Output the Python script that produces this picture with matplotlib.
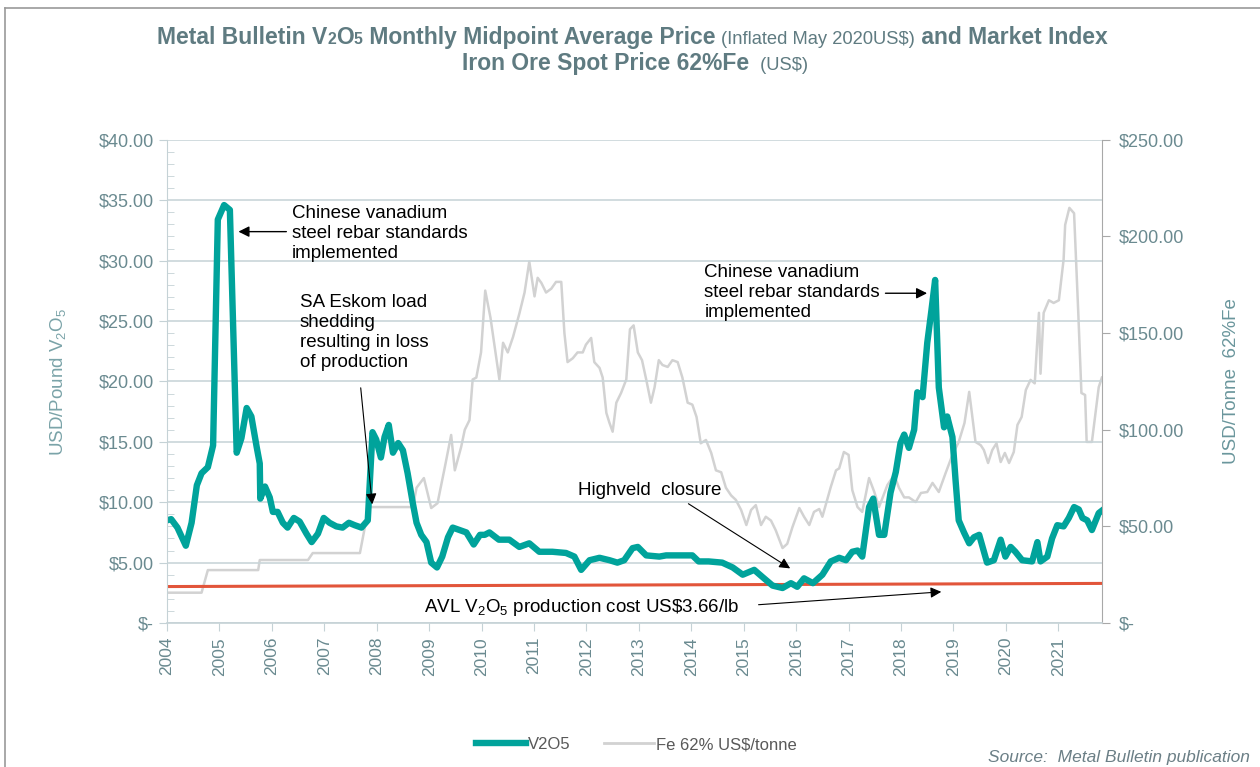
import matplotlib
matplotlib.use("Agg")
import matplotlib.pyplot as plt
from matplotlib import font_manager
from matplotlib.lines import Line2D
from matplotlib.ticker import FuncFormatter, MultipleLocator

plt.rcParams['font.family'] = ['Liberation Sans', 'DejaVu Sans']
plt.rcParams['mathtext.fontset'] = 'custom'
plt.rcParams['mathtext.rm'] = 'Liberation Sans'
plt.rcParams['mathtext.it'] = 'Liberation Sans:italic'
plt.rcParams['mathtext.default'] = 'regular'

# V2O5 monthly midpoint (US$/lb, inflated)
v2o5_t = [2004.00, 2004.08, 2004.20, 2004.36, 2004.47, 2004.57, 2004.66, 2004.78, 2004.88, 2004.97,
          2005.09, 2005.20, 2005.33, 2005.42, 2005.52, 2005.61, 2005.71, 2005.77, 2005.78, 2005.87,
          2005.96, 2006.02, 2006.11, 2006.21, 2006.30, 2006.42, 2006.53, 2006.66, 2006.76, 2006.88,
          2006.99, 2007.10, 2007.23, 2007.35, 2007.47, 2007.58, 2007.71, 2007.83, 2007.92, 2007.99,
          2008.08, 2008.15, 2008.23, 2008.31, 2008.41, 2008.50, 2008.59, 2008.69, 2008.76, 2008.85,
          2008.95, 2009.04, 2009.15, 2009.25, 2009.36, 2009.45, 2009.58, 2009.71, 2009.85, 2009.97,
          2010.06, 2010.15, 2010.33, 2010.53, 2010.72, 2010.91, 2011.10, 2011.35, 2011.61, 2011.77,
          2011.90, 2012.06, 2012.25, 2012.44, 2012.59, 2012.72, 2012.88, 2012.98, 2013.14, 2013.39,
          2013.52, 2013.77, 2014.02, 2014.14, 2014.33, 2014.59, 2014.79, 2014.98, 2015.20, 2015.36,
          2015.55, 2015.74, 2015.90, 2016.02, 2016.15, 2016.32, 2016.50, 2016.66, 2016.82, 2016.95,
          2017.07, 2017.17, 2017.26, 2017.39, 2017.47, 2017.58, 2017.68, 2017.80, 2017.90, 2017.99,
          2018.06, 2018.15, 2018.25, 2018.31, 2018.41, 2018.50, 2018.58, 2018.65, 2018.72, 2018.82,
          2018.88, 2018.98, 2019.04, 2019.10, 2019.20, 2019.30, 2019.39, 2019.49, 2019.64, 2019.77,
          2019.90, 2019.99, 2020.09, 2020.18, 2020.31, 2020.50, 2020.60, 2020.66, 2020.79, 2020.88,
          2020.98, 2021.10, 2021.20, 2021.30, 2021.39, 2021.46, 2021.55, 2021.64, 2021.77, 2021.83]
v2o5_val = [8.5, 8.6, 7.9, 6.4, 8.3, 11.4, 12.4, 12.9, 14.7, 33.4,
            34.6, 34.2, 14.1, 15.3, 17.8, 17.1, 14.6, 13.2, 10.3, 11.3,
            10.4, 9.2, 9.2, 8.3, 7.9, 8.7, 8.4, 7.4, 6.7, 7.4,
            8.7, 8.3, 8.0, 7.9, 8.3, 8.1, 7.9, 8.5, 15.8, 15.2,
            13.7, 15.4, 16.4, 14.1, 14.9, 14.3, 12.4, 9.9, 8.3, 7.3,
            6.7, 5.0, 4.6, 5.5, 7.1, 7.9, 7.7, 7.5, 6.5, 7.3,
            7.3, 7.5, 6.9, 6.9, 6.3, 6.6, 5.9, 5.9, 5.8, 5.5,
            4.4, 5.2, 5.4, 5.2, 5.0, 5.2, 6.2, 6.3, 5.6, 5.5,
            5.6, 5.6, 5.6, 5.1, 5.1, 5.0, 4.6, 4.0, 4.4, 3.8,
            3.1, 2.9, 3.3, 3.0, 3.7, 3.3, 4.0, 5.1, 5.4, 5.2,
            5.9, 6.0, 5.5, 9.6, 10.3, 7.3, 7.3, 10.8, 12.5, 14.9,
            15.6, 14.5, 16.0, 19.1, 18.7, 23.2, 25.9, 28.4, 19.5, 16.2,
            17.1, 15.4, 11.8, 8.5, 7.5, 6.6, 7.1, 7.3, 5.0, 5.2,
            6.9, 5.5, 6.3, 5.9, 5.2, 5.1, 6.7, 5.1, 5.5, 7.0,
            8.1, 8.0, 8.7, 9.6, 9.4, 8.7, 8.5, 7.7, 9.1, 9.3]

# Iron ore 62%Fe spot (US$/tonne)
fe_t = [2004.00, 2004.66, 2004.78, 2005.74, 2005.77, 2006.69, 2006.78, 2007.68, 2007.79, 2007.86,
        2008.69, 2008.76, 2008.90, 2009.04, 2009.16, 2009.30, 2009.42, 2009.49, 2009.61, 2009.68,
        2009.77, 2009.83, 2009.90, 2009.99, 2010.07, 2010.17, 2010.34, 2010.41, 2010.50, 2010.60,
        2010.72, 2010.82, 2010.91, 2011.01, 2011.07, 2011.14, 2011.23, 2011.33, 2011.42, 2011.52,
        2011.58, 2011.64, 2011.74, 2011.83, 2011.93, 2011.99, 2012.09, 2012.15, 2012.25, 2012.31,
        2012.38, 2012.44, 2012.50, 2012.57, 2012.66, 2012.76, 2012.83, 2012.90, 2012.98, 2013.06,
        2013.14, 2013.23, 2013.30, 2013.38, 2013.45, 2013.55, 2013.64, 2013.74, 2013.83, 2013.93,
        2014.02, 2014.10, 2014.18, 2014.28, 2014.38, 2014.47, 2014.57, 2014.66, 2014.76, 2014.85,
        2014.95, 2015.05, 2015.14, 2015.23, 2015.33, 2015.42, 2015.52, 2015.61, 2015.74, 2015.83,
        2015.93, 2016.06, 2016.15, 2016.25, 2016.34, 2016.44, 2016.50, 2016.66, 2016.76, 2016.82,
        2016.91, 2017.00, 2017.07, 2017.17, 2017.26, 2017.39, 2017.49, 2017.58, 2017.74, 2017.87,
        2017.96, 2018.06, 2018.15, 2018.28, 2018.38, 2018.50, 2018.60, 2018.72, 2018.85, 2018.98,
        2019.10, 2019.21, 2019.30, 2019.42, 2019.52, 2019.58, 2019.66, 2019.74, 2019.82, 2019.90,
        2019.98, 2020.06, 2020.15, 2020.22, 2020.30, 2020.38, 2020.47, 2020.55, 2020.63, 2020.66,
        2020.72, 2020.82, 2020.91, 2021.01, 2021.10, 2021.13, 2021.21, 2021.30, 2021.38, 2021.44,
        2021.51, 2021.54, 2021.64, 2021.77, 2021.83]
fe_val = [15.7, 15.7, 27.4, 27.4, 32.6, 32.6, 36.2, 36.2, 51.8, 60.0,
          60.0, 70.0, 75.0, 59.5, 62.0, 80.7, 97.3, 79.0, 91.0, 100.0,
          105.0, 126.0, 127.0, 140.0, 172.0, 158.0, 126.0, 145.0, 140.0, 148.0,
          160.0, 171.0, 187.0, 169.0, 178.6, 176.0, 171.0, 173.0, 176.5, 176.5,
          150.0, 135.0, 137.0, 140.0, 140.0, 144.0, 147.5, 135.0, 132.0, 127.0,
          108.7, 103.5, 99.0, 114.0, 119.0, 126.0, 152.0, 154.0, 140.0, 136.0,
          126.0, 114.0, 122.0, 136.0, 133.5, 132.5, 136.0, 135.0, 127.0, 114.0,
          113.0, 106.6, 93.0, 94.7, 88.0, 79.0, 78.0, 70.0, 66.0, 63.7,
          58.5, 50.7, 58.5, 61.0, 50.7, 55.0, 53.0, 48.0, 38.8, 41.0,
          49.7, 59.5, 55.0, 50.7, 57.5, 59.0, 55.0, 70.4, 79.0, 80.0,
          88.5, 87.0, 68.8, 60.0, 57.5, 75.0, 67.8, 60.0, 71.4, 76.6,
          70.0, 65.0, 65.0, 62.6, 67.3, 67.8, 72.5, 67.8, 77.6, 87.0,
          93.7, 103.5, 119.6, 93.7, 92.0, 89.5, 82.8, 89.5, 93.0, 83.3,
          88.0, 82.8, 88.5, 102.5, 106.6, 120.6, 125.8, 124.0, 160.5, 129.0,
          160.5, 167.0, 165.6, 167.0, 188.0, 206.0, 214.8, 212.0, 160.5, 119.0,
          118.0, 93.7, 93.7, 122.0, 127.0]

# AVL production cost line (US$/lb)
cost_t = [2004.0, 2021.83]
cost_val = [3.02, 3.28]

years = list(range(2004, 2022))

TEAL = '#00a39b'
GREY = '#d2d2d2'
RED = '#e2553a'
TXT = '#6a8a90'


def pick_font(name, fallback):
    try:
        font_manager.findfont(name, fallback_to_default=False)
        return name
    except Exception:
        return fallback


title_font = pick_font('Liberation Sans Narrow', 'Liberation Sans')
narrow = title_font != 'Liberation Sans'

fig = plt.figure(figsize=(12.6, 7.67), dpi=100)
ax = fig.add_axes([0.1325, 0.1877, 0.742, 0.630])
ax2 = ax.twinx()
ax.set_zorder(ax2.get_zorder() + 1)
ax.patch.set_visible(False)

ax2.plot(fe_t, fe_val, color=GREY, lw=1.8)
ax.plot(cost_t, cost_val, color=RED, lw=2.2)
ax.plot(v2o5_t, v2o5_val, color=TEAL, lw=4.6, solid_joinstyle='round')

ax.set_xlim(2004, 2021.83)
ax.set_ylim(0, 40)
ax2.set_ylim(0, 250)

ax.yaxis.set_major_locator(MultipleLocator(5))
ax.yaxis.set_minor_locator(MultipleLocator(1))
ax2.yaxis.set_major_locator(MultipleLocator(50))
ax.set_xticks(years)
ax.set_xticklabels([str(y) for y in years], rotation=90, fontsize=12.5, color=TXT)


def money(v, pos):
    return '$-' if v == 0 else '${:,.2f}'.format(v)


ax.yaxis.set_major_formatter(FuncFormatter(money))
ax2.yaxis.set_major_formatter(FuncFormatter(money))
ax.tick_params(axis='y', which='major', labelsize=13, labelcolor=TXT, color='#c5d2d6',
               length=6, direction='out')
ax.tick_params(axis='y', which='minor', color='#c5d2d6', length=5, direction='in')
ax.tick_params(axis='x', color='#c5d2d6', length=6, pad=4)
ax2.tick_params(axis='y', labelsize=13, labelcolor=TXT, color='#a8a8a8', length=6, pad=6)

ax.grid(axis='y', which='major', color='#c9d5d9', lw=1.2)
for s in ['top', 'right']:
    ax.spines[s].set_visible(False)
ax.spines['left'].set_color('#c5d2d6')
ax.spines['bottom'].set_color('#c5d2d6')
ax.spines['bottom'].set_linewidth(1.2)
ax2.spines['top'].set_visible(False)
ax2.spines['left'].set_visible(False)
ax2.spines['bottom'].set_visible(False)
ax2.spines['right'].set_color('#a8a8a8')

ax.set_ylabel(r'USD/Pound V$_2$O$_5$', fontsize=13.5, color='#7aa3a8', labelpad=22)
ax2.set_ylabel('USD/Tonne  62%Fe', fontsize=13.5, color='#6a969c', labelpad=28)

# annotations
ann = dict(fontsize=13.5, color='black', linespacing=1.22)
ax.text(2006.38, 34.6, 'Chinese vanadium\nsteel rebar standards\nimplemented', va='top', **ann)
ax.annotate('', xy=(2005.31, 32.4), xytext=(2006.33, 32.4),
            arrowprops=dict(arrowstyle='-|>', color='black', lw=1, mutation_scale=16))
ax.text(2014.25, 29.7, 'Chinese vanadium\nsteel rebar standards\nimplemented', va='top', **ann)
ax.annotate('', xy=(2018.55, 27.3), xytext=(2017.65, 27.3),
            arrowprops=dict(arrowstyle='-|>', color='black', lw=1, mutation_scale=16))
ax.text(2006.53, 27.2, 'SA Eskom load\nshedding\nresulting in loss\nof production', va='top', **ann)
ax.annotate('', xy=(2007.92, 9.6), xytext=(2007.69, 19.7),
            arrowprops=dict(arrowstyle='-|>', color='black', lw=0.8, mutation_scale=16))
ax.text(2011.83, 11.0, 'Highveld  closure', va='center', **ann)
ax.annotate('', xy=(2015.93, 4.4), xytext=(2013.90, 10.0),
            arrowprops=dict(arrowstyle='-|>', color='black', lw=0.8, mutation_scale=16))
ax.text(2008.91, 1.3, r'AVL V$_2$O$_5$ production cost US\$3.66/lb', va='center', **ann)
ax.annotate('', xy=(2018.82, 2.6), xytext=(2015.23, 1.5),
            arrowprops=dict(arrowstyle='-|>', color='black', lw=0.8, mutation_scale=16))

# legend
handles = [Line2D([], [], color=TEAL, lw=4.6), Line2D([], [], color=GREY, lw=2)]
fig.legend(handles, ['V2O5', 'Fe 62% US$/tonne'], loc='center', bbox_to_anchor=(0.505, 0.029),
           ncol=2, frameon=False, fontsize=12, labelcolor='#595959', handlelength=3.0,
           handletextpad=0.1, columnspacing=2.0)

fig.text(0.992, 0.013, 'Source:  Metal Bulletin publication', ha='right', va='center',
         fontsize=12.5, style='italic', color='#6b7f86')

# title, built from pieces with mixed weight/size
TC = '#5f7b81'
big = 16.5
small = 13.2
sub = 11.4
line1 = [('Metal Bulletin V', big, 'bold'), ('2', sub, 'bold'), ('O', big, 'bold'),
         ('5', sub, 'bold'), (' Monthly Midpoint Average Price ', big, 'bold'),
         ('(Inflated May 2020US$)', small, 'normal'), (' and Market Index', big, 'bold')]
line2 = [('Iron Ore Spot Price 62%Fe ', big, 'bold'), (' (US$)', small, 'normal')]

renderer = fig.canvas.get_renderer()
W = fig.bbox.width
for pieces, yy, cx in [(line1, 0.942, 0.502), (line2, 0.909, 0.504)]:
    texts = [fig.text(0, yy, s, fontsize=fs, fontweight=w, color=TC, family=title_font,
                      va='baseline') for s, fs, w in pieces]
    widths = [t.get_window_extent(renderer).width for t in texts]
    x = cx * W - sum(widths) / 2
    for t, w in zip(texts, widths):
        t.set_x(x / W)
        x += w

# outer frame lines (top and left)
fig.add_artist(Line2D([0.004, 0.004], [0.0, 0.99], color='#9a9a9a', lw=1.2,
                      transform=fig.transFigure))
fig.add_artist(Line2D([0.004, 1.0], [0.99, 0.99], color='#9a9a9a', lw=1.2,
                      transform=fig.transFigure))

fig.savefig('out.png', dpi=100)
